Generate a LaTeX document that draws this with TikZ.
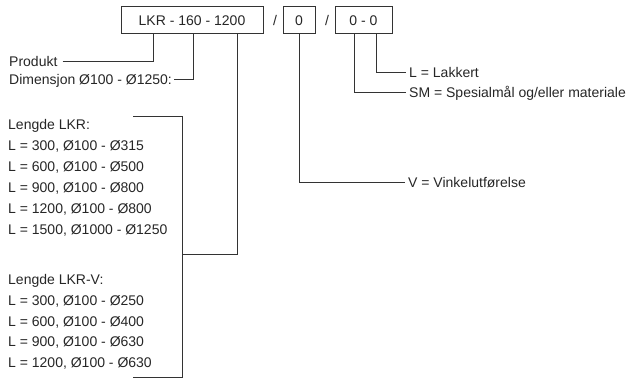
\documentclass[tikz,border=0pt]{standalone}
\usepackage{fontspec}
\setmainfont{Liberation Sans}

\tikzset{
  boks/.style={draw=black!80, line width=1pt, minimum height=27pt, inner sep=0pt,
    text=black!85, font=\fontsize{14}{16}\selectfont},
  tekst/.style={anchor=west, inner sep=2pt, text height=10pt, text depth=0pt,
    text=black!85, font=\fontsize{14}{16}\selectfont},
  linje/.style={line width=1pt, draw=black!80},
}

\begin{document}
\begin{tikzpicture}[x=1pt, y=-1pt]
        \useasboundingbox (0,0) rectangle (637,379);

        % Kodeboksene
        \node[boks, minimum width=142pt] (kode) at (192,20.5) {LKR - 160 - 1200};
        \node[tekst, anchor=center] (skr1) at (275,20.5) {/};
        \node[boks, minimum width=32pt] (vink) at (299,20.5) {0};
        \node[tekst, anchor=center] (skr2) at (327,20.5) {/};
        \node[boks, minimum width=57pt] (spes) at (363.5,20.5) {0 - 0};

        % Uttak under boksene
        \coordinate (k1) at (153,34);
        \coordinate (k2) at (193,34);
        \coordinate (k3) at (237,34);
        \coordinate (k4) at (354,34);
        \coordinate (k5) at (376,34);

        % Produkt og dimensjon
        \node[tekst] (produkt) at (7,62) {Produkt};
        \node[tekst] (dim) at (7,80) {Dimensjon Ø100 - Ø1250:};
        \draw[linje, shorten <=3pt] (produkt.east) -| (k1);
        \draw[linje] (dim.east) -| (k2);

        % Lengder LKR
        \node[tekst] (lkr) at (6,125) {Lengde LKR:};
        \foreach \rad [count=\i] in {{L = 300, Ø100 - Ø315}, {L = 600, Ø100 - Ø500},
            {L = 900, Ø100 - Ø800}, {L = 1200, Ø100 - Ø800}, {L = 1500, Ø1000 - Ø1250}}
          \node[tekst] (lkr\i) at (6,125+21*\i) {\rad};

        % Lengder LKR-V
        \node[tekst] (lkrv) at (6,280) {Lengde LKR-V:};
        \foreach \rad [count=\i] in {{L = 300, Ø100 - Ø250}, {L = 600, Ø100 - Ø400},
            {L = 900, Ø100 - Ø630}, {L = 1200, Ø100 - Ø630}}
          \node[tekst] (lkrv\i) at (6,280+20.5*\i) {\rad};

        % Klamme rundt lengdene
        \coordinate (kl1) at (133,117);
        \coordinate (kl2) at (133,377);
        \coordinate (gren) at (182,255);
        \draw[linje] (kl1) -- ++(49,0) |- (kl2);
        \draw[linje] (gren) -| (k3);

        % Tillegg til høyre
        \node[tekst] (vtekst) at (406,183) {V = Vinkelutførelse};
        \node[tekst] (ltekst) at (407,73) {L = Lakkert};
        \node[tekst] (smtekst) at (407,93) {SM = Spesialmål og/eller materiale};
        \draw[linje, shorten >=1pt] (vink.south) |- (vtekst.west);
        \draw[linje, shorten >=1pt] (k5) |- (ltekst.west);
        \draw[linje, shorten >=1pt] (k4) |- (smtekst.west);
\end{tikzpicture}
\end{document}
